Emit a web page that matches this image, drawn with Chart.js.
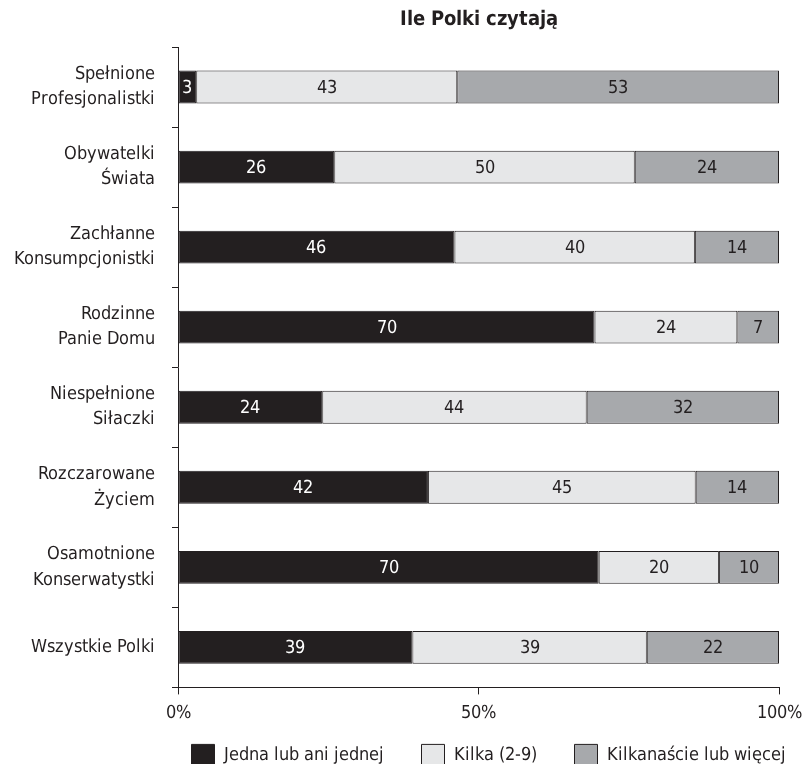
<!DOCTYPE html>
<html>
<head>
<meta charset="utf-8">
<script src="https://cdn.jsdelivr.net/npm/chart.js@4"></script>
<style>
  @font-face {
    font-family: "NarrowSans";
    font-weight: 400;
    src: local("Liberation Sans Narrow"), local("LiberationSansNarrow-Regular"),
         local("DejaVu Sans Condensed"), local("DejaVuSansCondensed");
  }
  @font-face {
    font-family: "NarrowSans";
    font-weight: 700;
    src: local("Liberation Sans Narrow Bold"), local("LiberationSansNarrow-Bold"),
         local("DejaVu Sans Condensed Bold"), local("DejaVuSansCondensed-Bold");
  }
  html, body { margin: 0; padding: 0; background: #ffffff; }
  #wrap { width: 810px; height: 764px; }
</style>
</head>
<body>
<div id="wrap"><canvas id="chart" width="810" height="764"></canvas></div>
<script>
const categories = [
  ["Spełnione", "Profesjonalistki"],
  ["Obywatelki", "Świata"],
  ["Zachłanne", "Konsumpcjonistki"],
  ["Rodzinne", "Panie Domu"],
  ["Niespełnione", "Siłaczki"],
  ["Rozczarowane", "Życiem"],
  ["Osamotnione", "Konserwatystki"],
  ["Wszystkie Polki"],
]
const jedna = [3, 26, 46, 70, 24, 42, 70, 39]
const kilka = [43, 50, 40, 24, 44, 45, 20, 39]
const kilkanascie = [53, 24, 14, 7, 32, 14, 10, 22]
const xTicks = [0, 50, 100]

const FONT = "NarrowSans, 'DejaVu Sans', sans-serif"
const INK = "#231f20"

// rows do not always sum to 100, the bars are drawn as share of the row total
const totals = jedna.map((v, i) => v + kilka[i] + kilkanascie[i])
const share = (arr) => arr.map((v, i) => v / totals[i] * 100)

const valueLabels = {
  id: "valueLabels",
  afterDatasetsDraw(chart) {
    const ctx = chart.ctx
    ctx.save()
    ctx.font = "18px " + FONT
    ctx.textAlign = "center"
    ctx.textBaseline = "middle"
    chart.data.datasets.forEach((ds, di) => {
      const meta = chart.getDatasetMeta(di)
      meta.data.forEach((bar, i) => {
        ctx.fillStyle = ds.labelColor
        ctx.fillText(String(ds.raw[i]), (bar.x + bar.base) / 2, bar.y + 1)
      })
    })
    ctx.restore()
  }
}

// title centred over the plot, legend pulled up under the axis labels
const placeBoxes = {
  id: "placeBoxes",
  afterLayout(chart) {
    const area = chart.chartArea
    chart.titleBlock.left = area.left
    const lg = chart.legend
    const shift = (area.left + area.right) / 2 + 10 - (lg.left + lg.right) / 2
    lg.left += shift
    lg.right += shift
    lg.top = area.bottom + 19
    lg.bottom = chart.height
    lg.width = lg.right - lg.left
    lg.height = lg.bottom - lg.top
  }
}

function draw() {
  const ctx = document.getElementById("chart")

  new Chart(ctx, {
    type: "bar",
    data: {
      labels: categories,
      datasets: [
        {
          label: "Jedna lub ani jednej",
          data: share(jedna),
          raw: jedna,
          labelColor: "#ffffff",
          backgroundColor: INK,
          borderColor: INK,
          borderWidth: 1,
        },
        {
          label: "Kilka (2-9)",
          data: share(kilka),
          raw: kilka,
          labelColor: INK,
          backgroundColor: "#e6e7e8",
          borderColor: INK,
          borderWidth: 1,
        },
        {
          label: "Kilkanaście lub więcej",
          data: share(kilkanascie),
          raw: kilkanascie,
          labelColor: INK,
          backgroundColor: "#a7a9ac",
          borderColor: INK,
          borderWidth: 1,
        },
      ],
    },
    options: {
      indexAxis: "y",
      responsive: false,
      animation: false,
      datasets: {
        bar: {
          categoryPercentage: 1,
          barPercentage: 0.41,
          borderSkipped: false,
        }
      },
      layout: {
        padding: { top: 0, right: 31, bottom: 0, left: 0 }
      },
      scales: {
        x: {
          stacked: true,
          min: 0,
          max: 100,
          afterBuildTicks: (scale) => {
            scale.ticks = xTicks.map(v => ({ value: v }))
          },
          ticks: {
            color: INK,
            font: { family: FONT, size: 18 },
            padding: 8,
            callback: (v) => v + "%",
          },
          grid: {
            drawOnChartArea: false,
            tickLength: 7,
            color: INK,
          },
          border: { color: INK, width: 1 },
        },
        y: {
          stacked: true,
          afterFit: (scale) => { scale.width = 178 },
          ticks: {
            color: INK,
            font: { family: FONT, size: 18, lineHeight: 1.4 },
            padding: 17,
          },
          grid: {
            drawOnChartArea: false,
            tickLength: 6,
            color: INK,
          },
          border: { color: INK, width: 1 },
        },
      },
      plugins: {
        title: {
          display: true,
          text: "Ile Polki czytają",
          color: INK,
          font: { family: FONT, size: 20, weight: "bold" },
          padding: { top: 8, bottom: 15 },
        },
        legend: {
          position: "bottom",
          maxHeight: 32,
          labels: {
            color: INK,
            font: { family: FONT, size: 18 },
            boxWidth: 23,
            boxHeight: 21,
            padding: 38,
          },
        },
        tooltip: { enabled: false },
      },
    },
    plugins: [valueLabels, placeBoxes],
  })
}

Promise.all([
  document.fonts.load("18px NarrowSans"),
  document.fonts.load("bold 20px NarrowSans"),
]).catch(() => {}).then(draw)
</script>
</body>
</html>
